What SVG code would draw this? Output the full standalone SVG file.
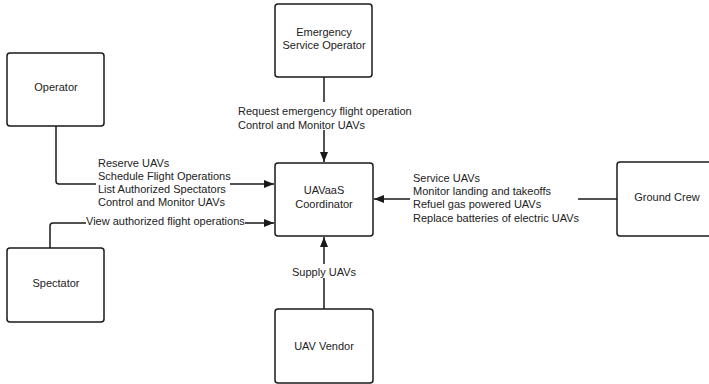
<svg xmlns="http://www.w3.org/2000/svg" width="709" height="384" viewBox="0 0 709 384">
  <style>
    .box { fill: #ffffff; stroke: #1a1a1a; stroke-width: 1.5; }
    .link { fill: none; stroke: #1a1a1a; stroke-width: 1.5; }
    text { font-family: "Liberation Sans", Arial, sans-serif; font-size: 11px; fill: #222222; }
    .c { text-anchor: middle; }
    .mask { fill: #ffffff; }
  </style>
  <defs>
    <marker id="arrow" viewBox="0 0 10 8" refX="10" refY="4" markerWidth="10" markerHeight="8" markerUnits="userSpaceOnUse" orient="auto">
      <path d="M0,0 L10,4 L0,8 Z" fill="#1a1a1a"/>
    </marker>
  </defs>

  <rect width="709" height="384" fill="#ffffff"/>

  <g id="connectors">
    <!-- Operator to coordinator -->
    <path class="link" d="M56,126 V181 Q56,184 59,184 H274" marker-end="url(#arrow)"/>
    <rect class="mask" x="96" y="178" width="134" height="12"/>
    <text x="98" y="167">Reserve UAVs</text>
    <text x="98" y="180">Schedule Flight Operations</text>
    <text x="98" y="193">List Authorized Spectators</text>
    <text x="98" y="206">Control and Monitor UAVs</text>

    <!-- Spectator to coordinator -->
    <path class="link" d="M50,248 V226 Q50,223 53,223 H274" marker-end="url(#arrow)"/>
    <rect class="mask" x="86" y="215" width="159" height="13"/>
    <text x="86" y="225">View authorized flight operations</text>

    <!-- Emergency operator to coordinator -->
    <path class="link" d="M324,77 V162" marker-end="url(#arrow)"/>
    <rect class="mask" x="236" y="102" width="176" height="28"/>
    <text x="238" y="115">Request emergency flight operation</text>
    <text x="238" y="129">Control and Monitor UAVs</text>

    <!-- Ground crew to coordinator -->
    <path class="link" d="M617,199 H374" marker-end="url(#arrow)"/>
    <rect class="mask" x="410" y="170" width="168" height="52"/>
    <text x="413" y="182">Service UAVs</text>
    <text x="413" y="195">Monitor landing and takeoffs</text>
    <text x="413" y="208">Refuel gas powered UAVs</text>
    <text x="413" y="222">Replace batteries of electric UAVs</text>

    <!-- Vendor to coordinator -->
    <path class="link" d="M324,309 V237" marker-end="url(#arrow)"/>
    <rect class="mask" x="290" y="264" width="68" height="14"/>
    <text class="c" x="324" y="276">Supply UAVs</text>
  </g>

  <g id="operator">
    <rect class="box" x="7" y="53" width="97" height="73" rx="3"/>
    <text class="c" x="56" y="91">Operator</text>
  </g>

  <g id="spectator">
    <rect class="box" x="7" y="248" width="97" height="74" rx="3"/>
    <text class="c" x="56" y="287">Spectator</text>
  </g>

  <g id="emergency-service-operator">
    <rect class="box" x="275" y="4" width="97" height="73" rx="3"/>
    <text class="c" x="324" y="36">Emergency</text>
    <text class="c" x="324" y="49">Service Operator</text>
  </g>

  <g id="uavaas-coordinator">
    <rect class="box" x="275" y="163" width="98" height="73" rx="3"/>
    <text class="c" x="324" y="194">UAVaaS</text>
    <text class="c" x="324" y="208">Coordinator</text>
  </g>

  <g id="ground-crew">
    <rect class="box" x="617" y="162" width="100" height="74" rx="3"/>
    <text class="c" x="667" y="201">Ground Crew</text>
  </g>

  <g id="uav-vendor">
    <rect class="box" x="275" y="309" width="98" height="74" rx="3"/>
    <text class="c" x="324" y="350">UAV Vendor</text>
  </g>
</svg>
